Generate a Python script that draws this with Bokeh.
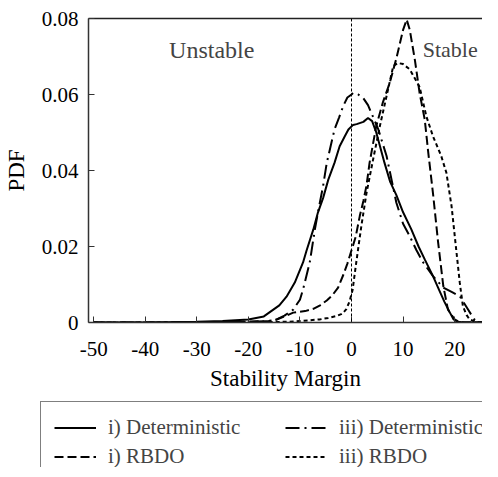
from bokeh.plotting import figure
from bokeh.layouts import column
from bokeh.models import Legend, LegendItem, FixedTicker, Label, Span, Range1d, LinearAxis
from bokeh.embed import file_html
from bokeh.resources import INLINE

# ---- data ----
det_i_x = [-50, -40, -30, -25, -20, -17, -14, -12.6, -11, -9.4, -8.7, -7.4, -6.5, -5.5, -4.5, -3.3,
           -2.3, -1.3, -0.6, 0.3, 1.0, 2.3, 3.2, 4.0, 4.8, 5.6, 6.4, 7.5, 8.7, 10, 11.6, 13, 14.2,
           15.8, 17, 18, 19, 19.8, 20.5, 22, 26]
det_i_y = [0, 0, 0.0002, 0.0004, 0.0008, 0.0016, 0.0045, 0.0068, 0.0105, 0.0158, 0.019, 0.0245,
           0.029, 0.0328, 0.0376, 0.042, 0.0464, 0.049, 0.0508, 0.052, 0.0522, 0.0528, 0.0538,
           0.053, 0.050, 0.046, 0.042, 0.037, 0.0335, 0.029, 0.0245, 0.020, 0.0166, 0.0122,
           0.0085, 0.0055, 0.0028, 0.0008, 0.0002, 0, 0]

rbdo_i_x = [-50, -40, -30, -20, -16, -14.5, -13, -11.3, -9, -7.4, -6, -4.8, -3.7, -2.6, -1.6, -0.8,
            0, 0.8, 1.6, 2.3, 2.9, 3.5, 4.8, 6.1, 7.4, 8.7, 10, 10.7, 11.3, 12.3, 13.2, 14.2, 14.9,
            15.8, 16.8, 17.8, 18.7, 20, 21, 26]
rbdo_i_y = [0, 0, 0, 0.0002, 0.0004, 0.0008, 0.0016, 0.0026, 0.003, 0.0036, 0.0046, 0.0058,
            0.0072, 0.0092, 0.0125, 0.0155, 0.019, 0.0225, 0.028, 0.032, 0.036, 0.042, 0.0517,
            0.058, 0.063, 0.0695, 0.077, 0.0797, 0.077, 0.069, 0.0604, 0.0534, 0.0445, 0.034,
            0.021, 0.0096, 0.0034, 0.0008, 0.0001, 0]

det_iii_x = [-50, -40, -30, -20, -16, -14.5, -13, -11.3, -10, -9.4, -8.1, -7.1, -6.5, -5.5, -4.8,
             -3.3, -2.4, -1.6, -0.8, 0, 0.3, 1.3, 2.3, 3.2, 3.9, 5.2, 6.8, 8.7, 10, 11.3, 12.6,
             13.9, 15.8, 17.8, 19.5, 21, 22.6, 23.8, 25, 26]
det_iii_y = [0, 0, 0, 0.0002, 0.0004, 0.0008, 0.0018, 0.0034, 0.006, 0.0087, 0.0158, 0.0245,
             0.029, 0.036, 0.042, 0.0508, 0.054, 0.057, 0.0592, 0.060, 0.0604, 0.0600, 0.059,
             0.0572, 0.055, 0.0508, 0.0438, 0.0315, 0.026, 0.0227, 0.019, 0.0158, 0.0122,
             0.0092, 0.008, 0.0069, 0.0034, 0.0008, 0.0001, 0]

rbdo_iii_x = [-50, -40, -30, -20, -12, -10, -8, -6.2, -4.5, -2.9, -2, -1.6, -1, -0.4, 0.2, 1,
              1.9, 2.9, 4.2, 5.5, 6.8, 8.1, 9.0, 10, 11.3, 13.2, 14.5, 15.8, 17.4, 18.4, 19.4,
              20.3, 21, 21.6, 22.3, 22.9, 24, 26]
rbdo_iii_y = [0, 0, 0, 0, 0.0002, 0.0004, 0.0006, 0.0008, 0.0012, 0.0017, 0.0022, 0.0026,
              0.0035, 0.0055, 0.0085, 0.0166, 0.0253, 0.034, 0.043, 0.0517, 0.0596, 0.0675,
              0.0683, 0.068, 0.0666, 0.062, 0.0543, 0.049, 0.0438, 0.0394, 0.0306, 0.0192,
              0.0104, 0.0043, 0.002, 0.0008, 0.0002, 0]

x_ticks = [-50, -40, -30, -20, -10, 0, 10, 20]
x_tick_labels = ["-50", "-40", "-30", "-20", "-10", "0", "10", "20"]
y_ticks = [0, 0.02, 0.04, 0.06, 0.08]
y_tick_labels = ["0", "0.02", "0.04", "0.06", "0.08"]

legend_labels = ["i) Deterministic", "i) RBDO", "iii) Deterministic", "iii) RBDO"]

SERIF = "Liberation Serif"
styles = [dict(line_dash="solid"), dict(line_dash="9 4"),
          dict(line_dash="14 5 2 5"), dict(line_dash="4 3")]
series = [(det_i_x, det_i_y), (rbdo_i_x, rbdo_i_y), (det_iii_x, det_iii_y), (rbdo_iii_x, rbdo_iii_y)]

p = figure(width=482, height=401, output_backend="svg", toolbar_location=None,
           x_range=Range1d(-51, 25.4), y_range=Range1d(0, 0.08),
           min_border_left=88, min_border_right=0, min_border_top=18, min_border_bottom=79)
p.frame_align = False
p.background_fill_color = "white"
p.border_fill_color = "white"
p.outline_line_color = None
p.grid.visible = False

for ax in (p.xaxis, p.yaxis):
    ax.major_tick_in = 6
    ax.major_tick_out = 0
    ax.minor_tick_line_color = None
    ax.axis_line_color = "#333333"
    ax.axis_line_width = 1.5
    ax.major_tick_line_color = "#333333"
    ax.major_label_text_font = SERIF
    ax.major_label_text_font_size = "21px"
    ax.major_label_text_color = "black"
    ax.axis_label_text_font = SERIF
    ax.axis_label_text_font_size = "23px"
    ax.axis_label_text_font_style = "normal"
    ax.axis_label_text_color = "black"

p.xaxis.ticker = FixedTicker(ticks=x_ticks)
p.yaxis.ticker = FixedTicker(ticks=y_ticks)
p.xaxis.major_label_overrides = {t: l for t, l in zip(x_ticks, x_tick_labels)}
p.yaxis.major_label_overrides = {t: l for t, l in zip(y_ticks, y_tick_labels)}
p.xaxis.major_label_standoff = 19
p.yaxis.major_label_standoff = 10
p.xaxis.axis_label = "Stability Margin"
p.yaxis.axis_label = "PDF"
p.xaxis.axis_label_standoff = 7
p.yaxis.axis_label_standoff = 10

# top frame line only (the reference's right edge is cut off)
top_axis = LinearAxis(ticker=FixedTicker(ticks=[]), axis_line_color="#222222", axis_line_width=1.3,
                      major_tick_line_color=None, minor_tick_line_color=None)
p.add_layout(top_axis, "above")

p.add_layout(Span(location=0, dimension="height", line_color="black", line_width=1,
                  line_dash="3 2"))

for (xs, ys), st in zip(series, styles):
    p.line(xs, ys, line_color="black", line_width=2, **st)

p.add_layout(Label(x=-27.1, y=0.0718, text="Unstable", text_align="center",
                   text_baseline="alphabetic", text_font=SERIF, text_font_size="24px"))
p.add_layout(Label(x=13.8, y=0.0718, text="Stable", text_align="left",
                   text_baseline="alphabetic", text_font=SERIF, text_font_size="22px"))

# legend panel below the chart (lines are drawn out of view; only their legend glyphs show)
p2 = figure(width=482, height=66, output_backend="svg", toolbar_location=None,
            x_range=Range1d(-51, 25.4), y_range=Range1d(1, 2),
            x_axis_location=None, y_axis_location=None,
            min_border_left=0, min_border_right=0, min_border_top=0, min_border_bottom=0)
p2.frame_align = False
p2.grid.visible = False
p2.outline_line_color = None
legend_lines = [p2.line(xs, ys, line_color="black", line_width=2, **st)
                for (xs, ys), st in zip(series, styles)]

items = [LegendItem(label=l, renderers=[r]) for l, r in zip(legend_labels, legend_lines)]
legend = Legend(items=items, location=(40, -16), ncols=2,
                label_text_font=SERIF, label_text_font_size="21px",
                glyph_width=42, glyph_height=25, label_height=25, label_standoff=12,
                label_width=173, spacing=4, padding=13, margin=0,
                border_line_color="black", border_line_width=1.2,
                background_fill_color="white", background_fill_alpha=1)
p2.add_layout(legend, "center")

open("out.html", "w").write(file_html(column(p, p2, spacing=0), INLINE))
